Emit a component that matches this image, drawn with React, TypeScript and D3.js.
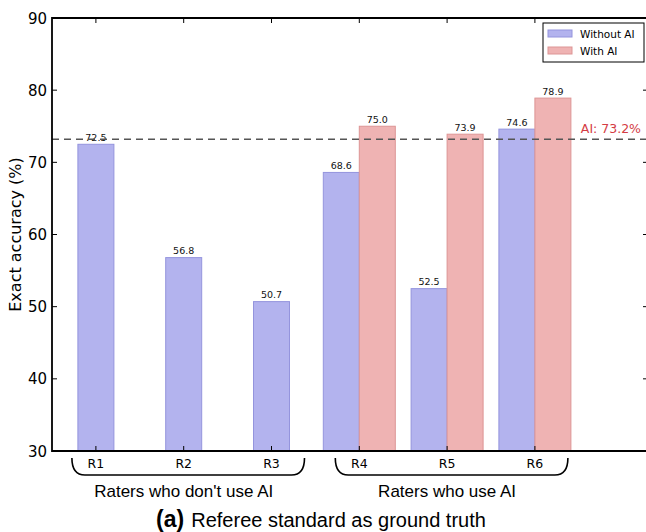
import * as d3 from "d3";

const raters = ["R1", "R2", "R3", "R4", "R5", "R6"];
const withoutAI = [72.5, 56.8, 50.7, 68.6, 52.5, 74.6];
const withAI: (number | null)[] = [null, null, null, 75.0, 73.9, 78.9];
const aiAccuracy = 73.2;
const yTicks = [30, 40, 50, 60, 70, 80, 90];
const groups = [
  { label: "Raters who don't use AI", from: 0, to: 2 },
  { label: "Raters who use AI", from: 3, to: 5 },
];

const W = 646;
const H = 532;
const left = 52;
const top = 18;
const bottom = 451;
const right = 649;
const barW = 0.41;

const blueFill = "#b3b3ee";
const blueEdge = "#9494dd";
const redFill = "#efb3b3";
const redEdge = "#dd9595";

const tickFont = "DejaVu Sans, sans-serif";
const textFont = "Liberation Sans, Arial, sans-serif";

export default function App() {
  const x = d3.scaleLinear().domain([-0.5, 5.5]).range([left, left + 6 * 87.8]);
  const y = d3.scaleLinear().domain([30, 90]).range([bottom, top]);

  const bars: { xi: number; v: number; fill: string; edge: string }[] = [];
  raters.forEach((_, i) => {
    const paired = withAI[i] !== null;
    const bx = paired ? x(i) - (x(barW) - x(0)) : x(i - barW / 2);
    bars.push({ xi: bx, v: withoutAI[i], fill: blueFill, edge: blueEdge });
    if (paired) bars.push({ xi: x(i), v: withAI[i] as number, fill: redFill, edge: redEdge });
  });
  const bw = x(barW) - x(0);

  const brace = (x0: number, x1: number) => {
    const yt = 458;
    const yb = 475;
    return `M${x0},${yt} Q${x0},${yb} ${x0 + 13},${yb} L${x1 - 13},${yb} Q${x1},${yb} ${x1},${yt}`;
  };

  return (
    <svg width={W} height={H} style={{ position: "absolute", left: 0, top: 0, background: "#fff", overflow: "hidden" }}>
      {bars.map((b, i) => (
        <g key={i}>
          <rect x={b.xi} y={y(b.v)} width={bw} height={y(30) - y(b.v)} fill={b.fill} stroke={b.edge} strokeWidth={1} />
          <text x={b.xi + bw / 2} y={y(b.v) - 3.5} textAnchor="middle" fontFamily={tickFont} fontSize={9.5} fill="#111">
            {b.v.toFixed(1)}
          </text>
        </g>
      ))}

      {/* AI reference line */}
      <line x1={left} x2={W} y1={y(aiAccuracy)} y2={y(aiAccuracy)} stroke="#555" strokeWidth={1.3} strokeDasharray="7,5" />
      <text x={641} y={y(aiAccuracy) - 6} textAnchor="end" fontFamily={tickFont} fontSize={12.5} fill="#d43c44">
        AI: {aiAccuracy.toFixed(1)}%
      </text>

      {/* frame (right spine falls just outside the picture) */}
      <path d={`M${W},${top} H${left} V${bottom} H${W}`} fill="none" stroke="#000" strokeWidth={1.8} />

      {/* y ticks */}
      {yTicks.map((t) => (
        <g key={t}>
          <line x1={left} x2={left + 5} y1={y(t)} y2={y(t)} stroke="#000" strokeWidth={1} />
          <line x1={right - 6} x2={W} y1={y(t)} y2={y(t)} stroke="#000" strokeWidth={1} />
          <text x={left - 5} y={y(t) + 5.5} textAnchor="end" fontFamily={tickFont} fontSize={15} fill="#000">
            {t}
          </text>
        </g>
      ))}

      {/* x ticks */}
      {raters.map((r, i) => (
        <g key={r}>
          <line x1={x(i)} x2={x(i)} y1={bottom} y2={bottom - 5} stroke="#000" strokeWidth={1} />
          <line x1={x(i)} x2={x(i)} y1={top} y2={top + 5} stroke="#000" strokeWidth={1} />
          <text x={x(i)} y={468} textAnchor="middle" fontFamily={tickFont} fontSize={12.5} fill="#000">
            {r}
          </text>
        </g>
      ))}

      {/* group braces */}
      {groups.map((g) => {
        const x0 = x(g.from) - 24;
        const x1 = x(g.to) + 33;
        return (
          <g key={g.label}>
            <path d={brace(x0, x1)} fill="none" stroke="#000" strokeWidth={1.6} />
            <text x={(x(g.from) + x(g.to)) / 2} y={497} textAnchor="middle" fontFamily={textFont} fontSize={17} fill="#000">
              {g.label}
            </text>
          </g>
        );
      })}

      {/* y label */}
      <text
        transform={`translate(21,${(top + bottom) / 2}) rotate(-90)`}
        textAnchor="middle"
        fontFamily={tickFont}
        fontSize={16}
        fill="#000"
      >
        Exact accuracy (%)
      </text>

      {/* legend */}
      <rect x={543} y={23} width={101} height={39} fill="#fff" stroke="#000" strokeWidth={1} />
      <rect x={548} y={30} width={24} height={7} fill={blueFill} stroke={blueEdge} strokeWidth={1} />
      <text x={580} y={37.5} fontFamily={tickFont} fontSize={10.5} fill="#000">Without AI</text>
      <rect x={548} y={47} width={24} height={7} fill={redFill} stroke={redEdge} strokeWidth={1} />
      <text x={580} y={54.5} fontFamily={tickFont} fontSize={10.5} fill="#000">With AI</text>

      {/* caption */}
      <text x={321} y={527} textAnchor="middle" fontFamily={textFont} fontSize={20} fill="#000">
        <tspan fontWeight="bold" fontSize={23}>(a)</tspan>
        <tspan dx={7}>Referee standard as ground truth</tspan>
      </text>
    </svg>
  );
}
